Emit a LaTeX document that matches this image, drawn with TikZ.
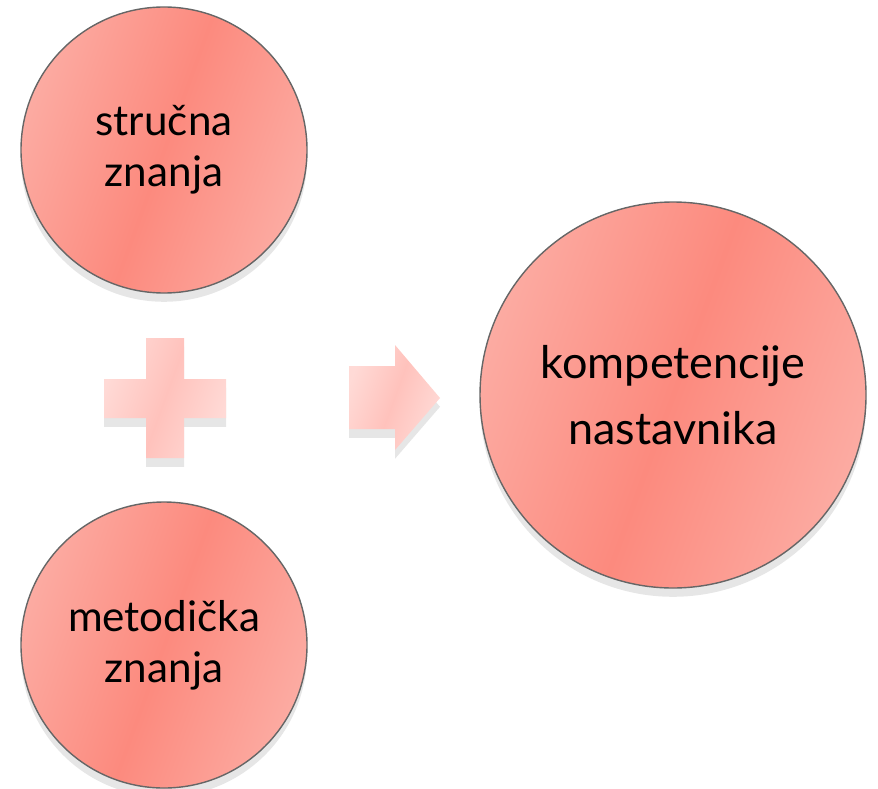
\documentclass[tikz,border=0pt]{standalone}
\usepackage{fontspec}
\setmainfont{Lato}
\usetikzlibrary{shadows}
\definecolor{salmonMid}{HTML}{FC8A7E}
\definecolor{salmonEdge}{HTML}{FCABA2}
\definecolor{pinkMid}{HTML}{FFC2BC}
\definecolor{pinkEdge}{HTML}{FFDAD6}
\begin{document}
\begin{tikzpicture}[x=0.1mm,y=-0.1mm,
  knowbox/.style={circle,draw=black!60,line width=0.4pt,
    left color=salmonEdge,right color=salmonEdge,middle color=salmonMid,shading angle=70,
    drop shadow={shadow xshift=0pt,shadow yshift=-2.5pt,opacity=0.2},
    align=center,font=\fontsize{12}{14.5}\selectfont,inner sep=0pt},
  signbox/.style={left color=pinkEdge,right color=pinkEdge,middle color=pinkMid,shading angle=70,
    drop shadow={shadow xshift=0pt,shadow yshift=-2.5pt,opacity=0.2}}]
\useasboundingbox (0,0) rectangle (878,788);
% the two kinds of knowledge
\node[knowbox,minimum size=28.6mm] (strucna) at (164,150) {stručna\\znanja};
\node[knowbox,minimum size=28.6mm] (metodicka) at (164,645) {metodička\\znanja};
% result
\node[knowbox,minimum size=38.6mm,font=\fontsize{12.8}{18.8}\selectfont] (kompetencije) at (673,395) {kompetencije\\nastavnika};
% plus
\path[signbox] (146,338) -- (184,338) -- (184,379) -- (226,379) -- (226,418) -- (184,418)
  -- (184,458) -- (146,458) -- (146,418) -- (104,418) -- (104,379) -- (146,379) -- cycle;
% arrow
\path[signbox] (349,366) -- (395,366) -- (395,345) -- (440,398) -- (395,450) -- (395,429)
  -- (349,429) -- cycle;
\end{tikzpicture}
\end{document}
